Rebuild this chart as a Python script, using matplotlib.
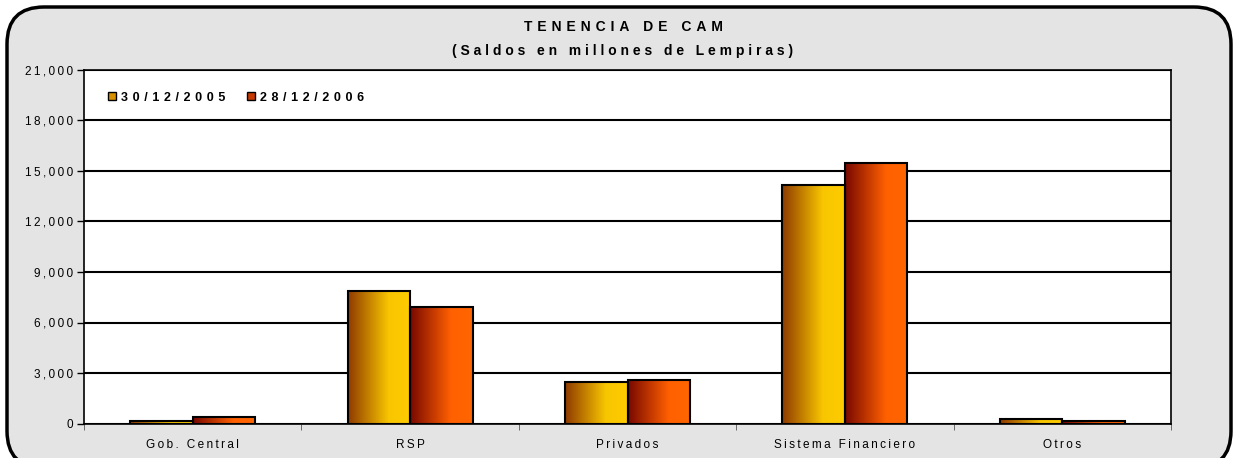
import numpy as np
import matplotlib
matplotlib.use("Agg")
import matplotlib.pyplot as plt
from matplotlib.colors import LinearSegmentedColormap
from matplotlib.patches import FancyBboxPatch, Patch
from matplotlib.ticker import FuncFormatter, MultipleLocator

plt.rcParams["font.family"] = ["Liberation Sans", "DejaVu Sans"]

# ── data (millones de Lempiras) ───────────────────────────────────────────────
categories = ["Gob. Central", "RSP", "Privados", "Sistema Financiero", "Otros"]
series_labels = ["30/12/2005", "28/12/2006"]
saldo_2005 = [120, 7870, 2480, 14170, 260]
saldo_2006 = [390, 6900, 2600, 15480, 130]

BG = "#E4E4E4"
cmap_2005 = LinearSegmentedColormap.from_list(
    "s05", [(0, "#8F3A00"), (0.65, "#F8C600"), (1, "#FFCC00")])
cmap_2006 = LinearSegmentedColormap.from_list(
    "s06", [(0, "#780800"), (0.65, "#FF6000"), (1, "#FF6600")])


def track(s, sep="\u2009"):
    # the original chart has wide letter spacing everywhere
    return sep.join(s)


fig = plt.figure(figsize=(12.36, 4.58), dpi=100)
fig.patch.set_facecolor("white")

# rounded frame around the whole chart
frame = FancyBboxPatch((7 / 1236, -10 / 458), 1224 / 1236, 461 / 458,
                       boxstyle="round,pad=0,rounding_size=0.03",
                       transform=fig.transFigure, facecolor=BG,
                       edgecolor="black", linewidth=2.5, zorder=-10,
                       mutation_aspect=1236 / 458)
fig.patches.append(frame)

ax = fig.add_axes([84 / 1236, 1 - 423.5 / 458, (1171 - 84) / 1236, (423.5 - 70) / 458])
ax.set_facecolor("white")

x = np.arange(len(categories))
w = 0.2875
bars05 = ax.bar(x - w / 2, saldo_2005, width=w, facecolor="none",
                edgecolor="black", linewidth=1.5, zorder=3)
bars06 = ax.bar(x + w / 2, saldo_2006, width=w, facecolor="none",
                edgecolor="black", linewidth=1.5, zorder=3)

grad = np.linspace(0, 1, 256).reshape(1, -1)
for bars, cm in ((bars05, cmap_2005), (bars06, cmap_2006)):
    for b in bars:
        x0, y0 = b.get_x(), b.get_y()
        im = ax.imshow(grad, cmap=cm, aspect="auto", zorder=2,
                       extent=(x0, x0 + b.get_width(), y0, y0 + b.get_height()))
        im.set_clip_path(b)

ax.set_xlim(-0.5, len(categories) - 0.5)
ax.set_ylim(0, 21000)
ax.yaxis.set_major_locator(MultipleLocator(3000))
ax.yaxis.set_major_formatter(FuncFormatter(lambda v, p: track(f"{int(v):,}")))
ax.grid(axis="y", color="black", linewidth=1.5, zorder=1)
ax.set_axisbelow(True)

ax.set_xticks(x)
ax.set_xticklabels([track(c) for c in categories], fontsize=8.5)
ax.set_xticks(np.arange(len(categories) + 1) - 0.5, minor=True)
ax.tick_params(axis="x", which="major", length=0, pad=11)
ax.tick_params(axis="x", which="minor", length=4, color="#555555")
ax.tick_params(axis="y", length=5, width=1, labelsize=8.5, pad=3)
for s in ax.spines.values():
    s.set_color("black")
    s.set_linewidth(1.2)

fig.text(623 / 1236, 1 - 27 / 458, track("TENENCIA DE CAM", "\u2009\u2006"),
         ha="center", va="center", fontsize=10, fontweight="bold")
fig.text(623 / 1236, 1 - 51 / 458, track("(Saldos en millones de Lempiras)", "\u2009\u200a"),
         ha="center", va="center", fontsize=10, fontweight="bold")

handles = [Patch(facecolor="#D89000", edgecolor="black", linewidth=1),
           Patch(facecolor="#C83800", edgecolor="black", linewidth=1)]
leg = ax.legend(handles, [track(s, "\u2009\u2006") for s in series_labels],
                loc="upper left", ncol=2, frameon=False,
                bbox_to_anchor=(0.012, 0.97), handlelength=0.6, handleheight=0.6,
                handletextpad=0.45, columnspacing=1.7,
                prop={"weight": "bold", "size": 9})

fig.savefig("out.png", dpi=100)
